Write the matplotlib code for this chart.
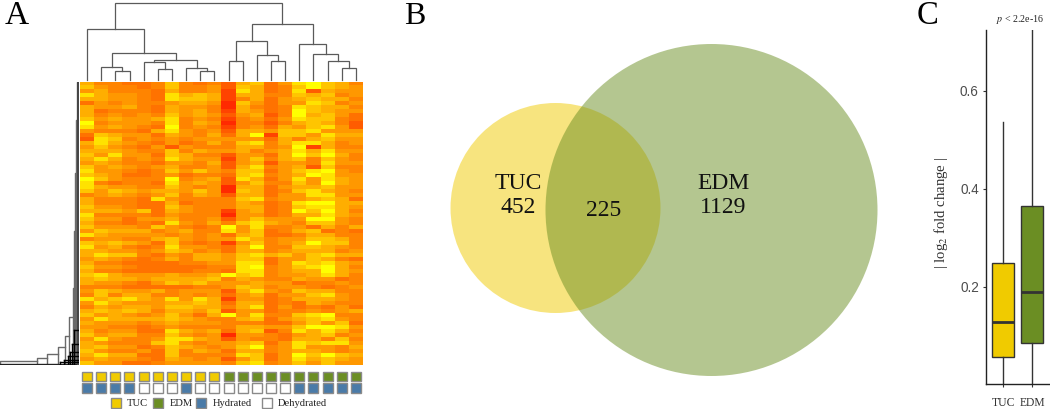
import numpy as np
import matplotlib
matplotlib.use("Agg")
import matplotlib.pyplot as plt
from matplotlib.colors import LinearSegmentedColormap
from matplotlib.patches import Circle, Rectangle

W, H = 1050, 409
SERIF = ["Liberation Serif", "DejaVu Serif"]
SANS = ["Liberation Sans", "DejaVu Sans"]
TUC_C, EDM_C, HYD_C = "#F0CB00", "#6B8E23", "#4A7BA8"

# heatmap expression levels by row, 0 = red ... 9 = yellow, one digit per sample
heat_rows = [
"64433 47434 26735 89764","75443 47445 27634 79765","56444 36445 18634 82655","86554 38676 16644 76745",
"66554 38776 14635 67664","35454 45665 07535 58745","65564 36554 06434 87664","63444 36564 16534 97655",
"64545 47565 25624 96753","75655 68454 14535 87743","94555 48465 04424 67642","85654 39454 14536 57852",
"54443 68545 26657 78555","37655 36546 36917 75866","28745 45455 55536 46755","68654 35346 47846 88645",
"57543 52544 46645 91644","66654 47465 56456 86855","75855 37644 25536 97964","68645 48655 15746 74754",
"56544 35546 25625 54855","75654 56445 26845 62744","85543 47575 47735 78954","76533 45344 37845 69855",
"97544 49456 28635 85865","84344 38565 25744 75965","86554 47545 06635 66755","75765 66575 07634 78654",
"45654 57465 26635 58855","64443 85444 47845 56763","64443 36344 46534 89966","75543 37544 46634 78865",
"66657 36544 15634 97964","84444 35444 05534 66865","75535 56445 25755 59954","64434 38546 47865 47754",
"75554 75434 95844 53646","57666 45644 85734 67343","86555 54545 36733 46644","45544 67545 58645 57764",
"76765 37434 15745 69774","85643 48554 36944 77654","66554 57645 36645 66645","68774 35466 57867 57866",
"56543 46466 57735 57643","64433 33445 58835 87865","75543 33334 48945 78964","64433 33344 38845 66965",
"78655 56556 97845 56864","67665 66667 46544 65534","65543 57675 55655 34454","44433 33344 57645 54345",
"57655 64555 26854 76644","47466 44545 35635 57854","86786 58586 15534 66654","58655 56676 36634 36544",
"46566 57766 46835 34353","67676 46657 25534 45456","75654 57536 95844 78944","58666 67654 46735 67854",
"65554 56555 44433 57573","55443 45444 46655 79985","64553 38656 36724 86864","75664 47545 05543 56745",
"58544 58865 25443 66474","65444 78545 56735 87885","67553 47654 57945 85546","75445 37465 36645 66545",
"68663 37444 48735 97976","56554 36545 25735 86765","75533 45555 47845 75755",
]
heat_colors = ["#FF2A00", "#FF6400", "#FF8E00", "#FFBE00", "#FFFF00"]

# column dendrogram: (left child, right child, height); ints are samples, "c<k>" earlier merges
col_merges = [
 (2, 3, 8.6), (1, "c0", 12.6), (5, 6, 10.6), (8, 9, 8.3), (7, "c3", 11.6), (4, "c2", 17.2),
 ("c5", "c4", 19.8), ("c1", "c6", 27.0), (0, "c7", 51.0), (10, 11, 19.0), (13, 14, 19.0),
 (12, "c10", 24.3), ("c9", "c11", 39.0), (18, 19, 11.6), (17, "c13", 18.3), (16, "c14", 25.6),
 (15, "c15", 36.0), ("c12", "c16", 55.3), ("c8", "c17", 77.0),
]

# row dendrogram ladder: merge depth and top of the bracket
row_depth = [0, 37, 47, 58, 65, 69, 73, 73.5, 74.5, 75.5, 76.5]
row_top = [361, 358, 354, 347, 336, 317, 288, 231, 173, 120, 82]
row_bottom = 364.5
row_dense_depth = [60, 64, 68, 70, 72, 74]
row_dense_top = [362, 360, 356, 352, 344, 330]

group_flags = ["TUC"] * 10 + ["EDM"] * 10
state_flags = ["H", "H", "H", "H", "D", "D", "D", "H", "D", "D",
               "D", "D", "D", "D", "D", "H", "H", "H", "H", "H"]
legend_labels = ["TUC", "EDM", "Hydrated", "Dehydrated"]
legend_colors = [TUC_C, EDM_C, HYD_C, "white"]
legend_box_x = [110.7, 152.7, 196, 261.7]
legend_text_x = [127, 169.7, 212.7, 278]

venn_centers = [(555.5, 208), (711.5, 210)]
venn_radii = [105, 166]

box_labels = ["TUC", "EDM"]
box_q1 = [0.057, 0.0845]
box_med = [0.1286, 0.1885]
box_q3 = [0.249, 0.365]
box_low = [0.0, 0.0]
box_high = [0.537, 0.73]
box_ticks = [0.2, 0.4, 0.6]


def axes_px(x0, y0, x1, y1):
    return fig.add_axes([x0 / W, 1 - y1 / H, (x1 - x0) / W, (y1 - y0) / H])


fig = plt.figure(figsize=(W / 100, H / 100), dpi=100, facecolor="white")

# page overlay for panels that work in pixel positions
page = axes_px(0, 0, W, H)
page.set_xlim(0, W)
page.set_ylim(H, 0)
page.axis("off")

# --- Panel A heatmap
ax = axes_px(80, 82, 363, 365)
matrix = np.array([[int(c) for c in r.replace(" ", "")] for r in heat_rows])
cmap = LinearSegmentedColormap.from_list("heat", heat_colors)
ax.imshow(matrix, aspect="auto", cmap=cmap, vmin=0, vmax=9, interpolation="nearest")
ax.axis("off")

# column dendrogram
ax = axes_px(80, 0, 363, 79.5)
ax.set_xlim(0, 20)
ax.set_ylim(0, 79.5)
ax.axis("off")
nodes = []
for a, b, h in col_merges:
    pa = (a + 0.5, 0) if isinstance(a, int) else nodes[int(a[1:])]
    pb = (b + 0.5, 0) if isinstance(b, int) else nodes[int(b[1:])]
    ax.plot([pa[0], pa[0], pb[0], pb[0]], [pa[1], h, h, pb[1]], color="#5a5a5a", lw=0.9,
            solid_joinstyle="miter", clip_on=False)
    nodes.append(((pa[0] + pb[0]) / 2, h))

# row dendrogram
ax = axes_px(0, 82, 79, 365)
ax.set_xlim(0, 79)
ax.set_ylim(365, 82)
ax.axis("off")
for i, (x, t) in enumerate(zip(row_depth, row_top)):
    nx = row_depth[i + 1] if i + 1 < len(row_depth) else 77.5
    ax.plot([x, x, nx], [row_bottom, t, t], color="#6a6a6a", lw=1.0)
ax.plot([0, 77.5], [row_bottom, row_bottom], color="#222222", lw=1.0)
ax.plot([77.5, 77.5], [82, row_bottom], color="#444444", lw=1.4)
for x, t in zip(row_dense_depth, row_dense_top):
    ax.plot([x, 77.5], [t, t], color="black", lw=1.0)
    ax.plot([x, x], [t, row_bottom], color="black", lw=1.0)

# annotation squares
for i in range(20):
    x = 82 + i * 14.15
    page.add_patch(Rectangle((x, 371.7), 10, 9.6, fc=TUC_C if group_flags[i] == "TUC" else EDM_C,
                             ec="#8a8a8a", lw=1.0))
    page.add_patch(Rectangle((x, 383.4), 10, 9.8, fc=HYD_C if state_flags[i] == "H" else "white",
                             ec="#8a8a8a", lw=1.0))
for lab, col, bx, tx in zip(legend_labels, legend_colors, legend_box_x, legend_text_x):
    page.add_patch(Rectangle((bx, 397.9), 10, 9.6, fc=col, ec="#8a8a8a", lw=1.0))
    page.text(tx, 403.2, lab, family=SERIF, fontsize=7.6, color="#222222", va="center", ha="left")

# --- Panel B Venn
for (c, r, col) in zip(venn_centers, venn_radii, [TUC_C, EDM_C]):
    page.add_patch(Circle(c, r, fc=col, ec="none", alpha=0.5))
page.text(518, 195.5, "TUC\n452", family=SERIF, fontsize=17, ha="center", va="center",
          linespacing=1.24, color="#111111")
page.text(604, 210, "225", family=SERIF, fontsize=17, ha="center", va="center", color="#111111")
page.text(723.5, 195.5, "EDM\n1129", family=SERIF, fontsize=17, ha="center", va="center",
          linespacing=1.24, color="#111111")

# panel letters
page.text(5, 23.5, "A", family=SERIF, fontsize=24, ha="left", va="baseline", color="black")
page.text(404, 23.5, "B", family=SERIF, fontsize=23, ha="left", va="baseline", color="black")
page.text(917, 23.5, "C", family=SERIF, fontsize=23.5, ha="left", va="baseline", color="black")

# --- Panel C boxplot
ax = axes_px(985.7, 30, 1050, 384)
stats = [dict(med=m, q1=a, q3=b, whislo=l, whishi=h, fliers=[], label=n)
         for m, a, b, l, h, n in zip(box_med, box_q1, box_q3, box_low, box_high, box_labels)]
bp = ax.bxp(stats, positions=[1, 2], widths=0.76, patch_artist=True, showcaps=False, showfliers=False,
            medianprops=dict(color="#333333", lw=2.0, solid_capstyle="butt"),
            whiskerprops=dict(color="#333333", lw=1.0),
            boxprops=dict(edgecolor="#333333", lw=1.0))
for patch, col in zip(bp["boxes"], [TUC_C, EDM_C]):
    patch.set_facecolor(col)
ax.set_xlim(0.393, 2.61)
ax.set_ylim(0.0014, 0.724)
for s in ("top", "right"):
    ax.spines[s].set_visible(False)
for s in ("left", "bottom"):
    ax.spines[s].set_color("#222222")
    ax.spines[s].set_linewidth(1.0)
ax.set_yticks(box_ticks)
ax.set_yticklabels([f"{t:.1f}" for t in box_ticks], family=SANS, fontsize=9.8, color="#4d4d4d")
ax.set_xticks([1, 2])
ax.set_xticklabels(box_labels, family=SERIF, fontsize=8.4, color="#333333")
ax.tick_params(axis="y", length=2.5, width=0.8, color="#333333", pad=2.5)
ax.tick_params(axis="x", length=2.5, width=0.8, color="#333333", pad=7)
page.text(941.5, 213, r"| log$_2$ fold change |", family=SERIF, fontsize=10.6, rotation=90,
          ha="center", va="center", color="#333333", math_fontfamily="stix")
page.text(1020, 20, r"$p$ < 2.2e-16", family=SERIF, fontsize=7.2, ha="center", va="center",
          color="#222222", math_fontfamily="stix")

fig.savefig("out.png", dpi=100)
